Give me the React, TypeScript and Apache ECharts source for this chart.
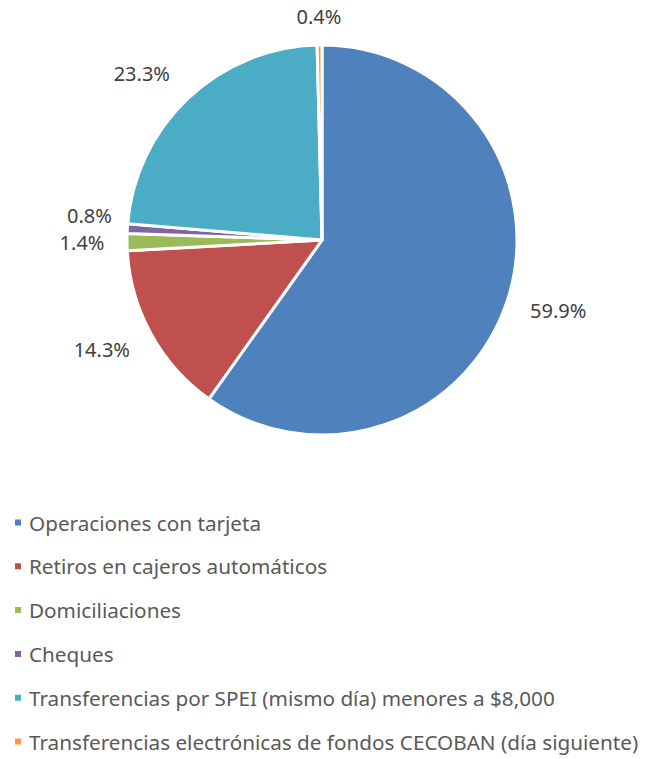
import React, { useEffect, useRef } from "react";
import * as echarts from "echarts";

const categories = [
  "Operaciones con tarjeta",
  "Retiros en cajeros automáticos",
  "Domiciliaciones",
  "Cheques",
  "Transferencias por SPEI (mismo día) menores a $8,000",
  "Transferencias electrónicas de fondos CECOBAN (día siguiente)",
];
const values = [59.9, 14.3, 1.4, 0.8, 23.3, 0.4];
const colors = ["#4F81BD", "#C0504D", "#9BBB59", "#8064A2", "#4BACC6", "#F79646"];

const FONT = "'Noto Sans', 'Open Sans', sans-serif";

// per-label nudges (style only), matching the reference's label placement
const labelNudges = [
  { dx: 0, dy: -5 },
  { dx: -3, dy: -10 },
  { dx: 8, dy: 0 },
  { dx: 15, dy: -10 },
  { dx: -10, dy: 14 },
  { dx: 0, dy: 24 },
];

export default function App() {
  const ref = useRef<HTMLDivElement>(null);
  useEffect(() => {
    document.body.style.margin = "0";
    const chart = echarts.init(ref.current!, null, { renderer: "svg" });
    const data = categories.map((name, i) => ({
      name,
      value: values[i],
      itemStyle: { color: colors[i] },
    }));
    chart.setOption({
      animation: false,
      backgroundColor: "#ffffff",
      legend: {
        orient: "vertical",
        left: 13,
        top: 512,
        padding: 0,
        itemWidth: 8,
        itemHeight: 8,
        itemGap: 22.8,
        icon: "rect",
        data: categories,
        textStyle: {
          fontFamily: FONT,
          fontSize: 20.7,
          color: "#595959",
          lineHeight: 20,
          padding: [0, 0, 0, 2],
        },
      },
      series: [
        {
          type: "pie",
          center: [322, 240],
          radius: [0, 195],
          startAngle: 90,
          clockwise: true,
          label: { show: false },
          labelLine: { show: false },
          itemStyle: { borderColor: "#ffffff", borderWidth: 3 },
          emphasis: { disabled: true },
          data,
        },
        {
          type: "pie",
          center: [322, 240],
          radius: [235, 255],
          startAngle: 90,
          clockwise: true,
          silent: true,
          legendHoverLink: false,
          itemStyle: { color: "rgba(0,0,0,0)" },
          label: {
            show: true,
            position: "inside",
            formatter: (p: any) => p.value.toFixed(1) + "%",
            fontFamily: FONT,
            fontSize: 20,
            color: "#404040",
          },
          labelLayout: (p: any) => labelNudges[p.dataIndex] || {},
          labelLine: { show: false },
          emphasis: { disabled: true },
          data: categories.map((name, i) => ({ name: "lbl" + i, value: values[i] })),
        },
      ],
    });
    return () => chart.dispose();
  }, []);
  return <div ref={ref} style={{ width: 647, height: 759 }} />;
}
